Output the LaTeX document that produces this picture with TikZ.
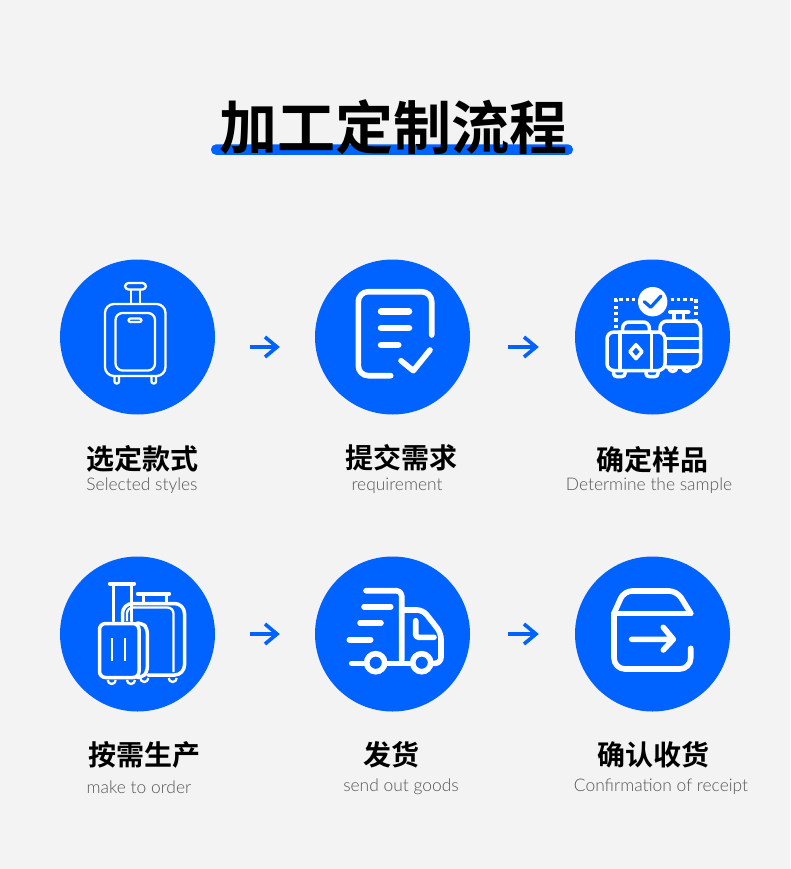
\documentclass[tikz,border=0pt]{standalone}
\usepackage{fontspec}
\setmainfont{Lato Light}
\newfontfamily\cjk{Noto Sans CJK SC Bold}
\usetikzlibrary{positioning,arrows.meta}
\definecolor{flowblue}{RGB}{0,98,255}
\definecolor{flowbg}{RGB}{243,243,243}
\definecolor{flowgray}{RGB}{85,85,85}
\tikzset{
  disc/.style={circle,fill=flowblue,minimum size=155pt,inner sep=0pt},
  flowarrow/.style={flowblue,line width=3.4pt,-{Straight Barb[length=12pt,width=20pt,line width=3.6pt]}},
  thin line/.style={draw=white,line width=2.3pt,line join=round},
  bold line/.style={draw=white,line width=3.5pt,line join=round,line cap=round},
  fat line/.style={draw=white,line width=5.6pt,line join=round,line cap=round},
  cntitle/.style={font=\cjk\fontsize{28}{28}\selectfont,text=black,inner sep=0pt},
  entitle/.style={font=\fontsize{17.4}{17.4}\selectfont,text=flowgray,inner sep=0pt},
}
\begin{document}
\begin{tikzpicture}[x=1pt,y=-1pt]
  \fill[flowbg] (0,0) rectangle (790,869);
  \useasboundingbox (0,0) rectangle (790,869);
  % Heading
  \node[fill=flowblue,rounded corners=5pt,minimum width=362pt,minimum height=10.5pt,inner sep=0pt] (titlebar) at (392,149.6) {};
  \node[font=\cjk\fontsize{58}{58}\selectfont,text=black,inner sep=0pt] (heading) at (393,127) {加工定制流程};
  % Discs
  \foreach \n/\x/\y in {c1/137.5/337,c2/392.5/337,c3/652.5/337,c4/137.5/634,c5/392.5/634,c6/652.5/634}{
    \node[disc] (\n) at (\x,\y) {};
  }
  % Arrows between discs
  \draw[flowarrow] ([xshift=35pt,yshift=-10pt]c1.east) -- ([xshift=-35pt,yshift=-10pt]c2.west);
  \draw[flowarrow] ([xshift=38pt,yshift=-10pt]c2.east) -- ([xshift=-36pt,yshift=-10pt]c3.west);
  \draw[flowarrow] ([xshift=35pt]c4.east) -- ([xshift=-35pt]c5.west);
  \draw[flowarrow] ([xshift=38pt]c5.east) -- ([xshift=-36pt]c6.west);
  % Labels
  \foreach \n/\x/\y/\t in {a/142/459/选定款式,b/401/458/提交需求,d/652/460/确定样品,e/144/755/按需生产,f/391/755/发货,g/653/755/确认收货}{
    \node[cntitle] (cn\n) at (\x,\y) {\t};
  }
  \foreach \n/\x/\y/\t in {a/142/486/Selected styles,b/397/486/requirement,d/649/486/Determine the sample,e/139/787/make to order,f/401/787/send out goods,g/661/787/Confirmation of receipt}{
    \node[entitle] (en\n) at (\x,\y) {\t};
  }
  % Icon 1: suitcase
  \draw[thin line,rounded corners=3.5pt] (125,283) rectangle (146,289.5);
  \draw[thin line] (131,290) -- (131,304) (140,290) -- (140,304);
  \draw[thin line,rounded corners=9pt] (105,304) rectangle (165.5,376);
  \draw[thin line,rounded corners=7pt] (115.5,313) rectangle (155,370.5);
  \draw[thin line,rounded corners=2pt] (128.5,318.5) rectangle (141.5,322);
  \draw[thin line,rounded corners=2pt] (114.5,376) -- (114.5,383.5) -- (119,383.5) -- (119,376);
  \draw[thin line,rounded corners=2pt] (151.5,376) -- (151.5,383.5) -- (156,383.5) -- (156,376);
  % Icon 2: sheet with tick
  \draw[fat line,rounded corners=10pt] (390.7,375.7) -- (358.3,375.7) -- (358.3,291.7) -- (431.7,291.7) -- (431.7,335);
  \draw[draw=white,line width=6.5pt,line cap=round] (381,311.3) -- (409,311.3) (381,328) -- (409,328) (381,345) -- (398.3,345);
  \draw[fat line] (401,360.7) -- (413.3,370.7) -- (430,350);
  % Icon 3: two cases and check
  \draw[draw=white,line width=4pt,line cap=round] (670,312) -- (688.5,312);
  \draw[bold line] (674,313) -- (674,321) (683.5,313) -- (683.5,321);
  \draw[bold line,rounded corners=7pt] (660,321) rectangle (700.5,367);
  \draw[bold line] (660,338.3) -- (700.5,338.3) (660,351) -- (700.5,351);
  \draw[bold line] (668.7,367.5) arc[start angle=180,end angle=360,radius=4pt];
  \draw[bold line] (682.7,367.5) arc[start angle=180,end angle=360,radius=4pt];
  \draw[draw=white,line width=3.2pt,dash pattern=on 3.2pt off 3.2pt] (616,328) -- (616,299.3) -- (696,299.3) -- (696,320);
  \fill[white] (652.7,301.7) circle (14.7);
  \draw[draw=flowblue,line width=3.2pt,line join=round,line cap=round] (644.3,301.7) -- (650.7,307.3) -- (661,296);
  \draw[bold line,fill=flowblue,rounded corners=7pt] (607,332) rectangle (665,370.5);
  \draw[bold line] (620,332) -- (620,370.5) (651.7,332) -- (651.7,370.5);
  \draw[bold line,rounded corners=6pt] (622.7,332) -- (622.7,322) -- (649.3,322) -- (649.3,332);
  \draw[bold line,rounded corners=3pt] (613.5,371) -- (613.5,376.5) -- (625,376.5) -- (625,371);
  \draw[bold line,rounded corners=3pt] (646,371) -- (646,376.5) -- (658,376.5) -- (658,371);
  \draw[bold line] (636,344.7) -- (642,351.7) -- (636,358.7) -- (630,351.7) -- cycle;
  % Icon 4: case set
  \draw[draw=white,line width=4.4pt,line cap=round] (110,583.7) -- (134,583.7);
  \draw[bold line] (113.3,585) -- (113.3,621) (131.7,585) -- (131.7,621);
  \draw[draw=white,line width=4.4pt,line cap=round] (138,593.7) -- (169,593.7);
  \draw[bold line] (143.3,595) -- (143.3,603) (166.7,595) -- (166.7,603);
  \draw[bold line,rounded corners=10pt] (122.5,621) -- (122.5,603.5) -- (184.5,603.5) -- (184.5,675) -- (148,675);
  \draw[thin line,rounded corners=6pt] (127,621) -- (127,607.5) -- (173.5,607.5) -- (173.5,672);
  \draw[thin line] (140.3,678) arc[start angle=180,end angle=360,radius=4pt];
  \draw[thin line] (168.7,678) arc[start angle=180,end angle=360,radius=4pt];
  \draw[thin line] (107.7,680) arc[start angle=180,end angle=360,radius=4pt];
  \draw[thin line] (127,680) arc[start angle=180,end angle=360,radius=4pt];
  \draw[bold line,rounded corners=5pt] (137,623) -- (142,623) -- (147.3,628) -- (147.3,672) -- (142,677.5) -- (137,677.5);
  \draw[bold line,fill=flowblue,rounded corners=6pt] (99.5,623.5) rectangle (139,677.5);
  \draw[thin line] (112.3,638.3) -- (112.3,661) (125.3,638.3) -- (125.3,661);
  % Icon 5: lorry
  \draw[fat line,rounded corners=5pt] (366,590.7) -- (401.7,590.7) -- (401.7,660);
  \draw[fat line,rounded corners=6pt] (401.7,610) -- (423,610) -- (441,633) -- (441,663.3) -- (432.7,663.3);
  \draw[fat line,rounded corners=3pt] (415.7,620.7) -- (415.7,637.3) -- (434,637.3);
  \draw[fat line] (364,606.7) -- (390.7,606.7) (360,623) -- (381,623) (349.3,639.7) -- (370.7,639.7);
  \draw[fat line] (351.7,663.3) -- (365,663.3) (386.7,663.3) -- (410.7,663.3);
  \draw[draw=white,line width=5.6pt] (375.7,662.7) circle (9) (421.7,662.7) circle (9);
  % Icon 6: box with arrow
  \draw[fat line,rounded corners=8pt] (614,613.3) -- (624,591) -- (677,591) -- (690.7,613.3);
  \draw[fat line] (614,613.3) -- (690.7,613.3);
  \draw[fat line,rounded corners=11pt] (614,613.3) -- (614,669) -- (690.7,669) -- (690.7,648.3);
  \draw[fat line] (631.7,639.3) -- (673.3,639.3) (663.3,627.3) -- (673.3,639.3) -- (663.3,650);
\end{tikzpicture}
\end{document}
